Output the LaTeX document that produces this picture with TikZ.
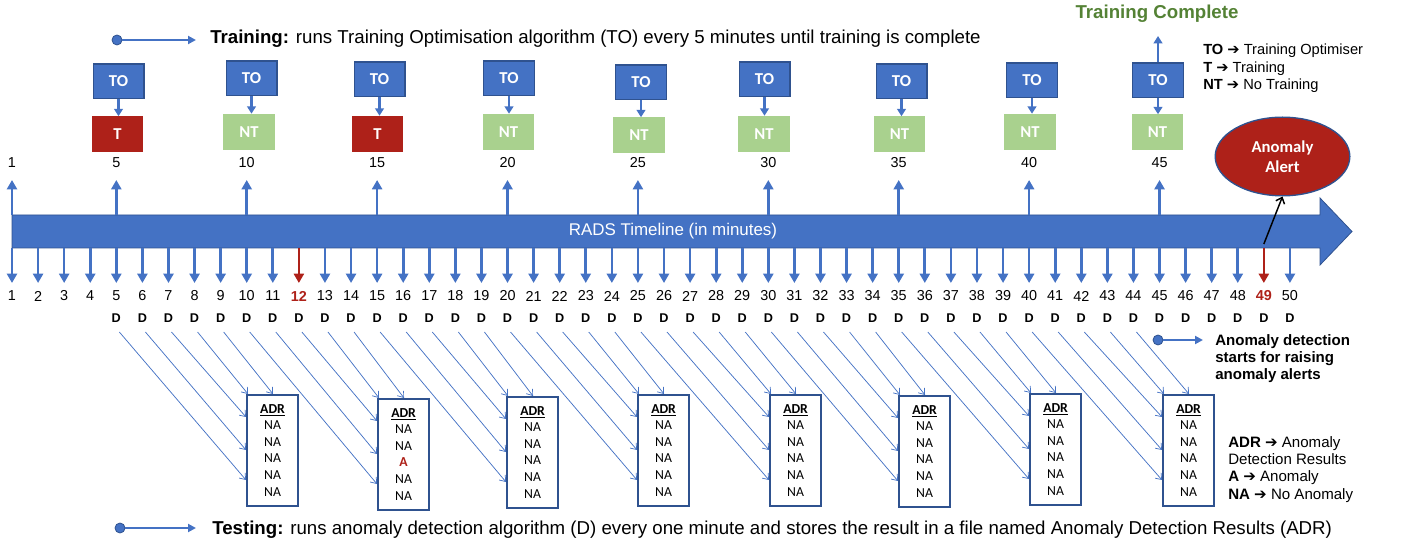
\documentclass[tikz,border=0pt]{standalone}
\usepackage{fontspec}
\setmainfont{Liberation Sans}
\newfontfamily\calib{Carlito}
\newfontfamily\dvs{DejaVu Sans}
\usetikzlibrary{arrows.meta,calc,shapes.geometric}
\definecolor{myblue}{HTML}{4472C4}
\definecolor{dkblue}{HTML}{2F528F}
\definecolor{myred}{HTML}{AE2119}
\definecolor{ntgreen}{HTML}{A9D18E}
\definecolor{tcgreen}{HTML}{548235}
\newcommand{\harr}{{\dvs\bfseries\char"2794}}
\begin{document}
\begin{tikzpicture}[x=0.75pt,y=-0.75pt,
  tickarrow/.style={myblue,line width=2pt,-{Triangle[width=7.5pt,length=7pt]}},
  redtick/.style={tickarrow,myred},
  numlab/.style={font=\fontsize{10.8}{12}\selectfont,inner sep=0pt},
  dlab/.style={font=\fontsize{9.5}{11}\selectfont\bfseries,inner sep=0pt},
  tobox/.style={draw=dkblue,line width=1pt,fill=myblue,minimum width=38pt,minimum height=26pt,inner sep=0pt,text=white,font=\calib\fontsize{12.5}{14}\selectfont\bfseries},
  tbox/.style={fill=myred,minimum width=38.5pt,minimum height=27pt,inner sep=0pt,text=white,font=\calib\fontsize{12.5}{14}\selectfont\bfseries},
  ntbox/.style={tbox,fill=ntgreen},
  toarrow/.style={myblue,line width=2pt,-{Triangle[width=6.5pt,length=5.5pt]}},
  adrbox/.style={draw=dkblue,line width=1.4pt,fill=white,minimum width=38.5pt,minimum height=83pt,inner sep=0pt,anchor=north west,align=center,font=\calib\fontsize{10.3}{12.4}\selectfont},
  diag/.style={myblue,line width=0.55pt,-{Straight Barb[length=4pt,width=6pt]}},
  dotnode/.style={circle,fill=myblue,draw=dkblue,line width=0.6pt,minimum size=7.5pt,inner sep=0pt},
  dotarrow/.style={myblue,line width=1.5pt,-{Triangle[width=6pt,length=6pt]}},
  legend/.style={align=left,anchor=north west,inner sep=0pt,font=\fontsize{11}{12.9}\selectfont}
]
\useasboundingbox (0,0) rectangle (1402,541);

% timeline body
\draw[fill=myblue,draw=dkblue,line width=0.6pt] (12,215) -- (1320,215) -- (1320,198) -- (1352,231.5) -- (1320,265) -- (1320,248) -- (12,248) -- cycle;
\node[text=white,font=\fontsize{12.7}{14}\selectfont,inner sep=0pt] (tl) at (673,231.5) {RADS Timeline (in minutes)};

% ticks below
\foreach \n in {1,...,50}{
  \pgfmathsetmacro\xx{12+26.08*(\n-1)}
  \coordinate (b\n) at (\xx,248);
  \coordinate (e\n) at (\xx,283);
}
\foreach \n in {1,...,11,13,14,...,48,50}{
  \draw[tickarrow] (b\n) -- (e\n);
  \node[numlab] (n\n) at ($(b\n)+(0,48)$) {\n};
}
\foreach \n in {12,49}{
  \draw[redtick] (b\n) -- (e\n);
  \node[numlab,text=myred,font=\fontsize{10.8}{12}\selectfont\bfseries] (n\n) at ($(b\n)+(0,48)$) {\n};
}
\foreach \n in {5,...,50}{
  \node[dlab] (d\n) at ($(b\n)+(0,70)$) {D};
}

% ticks above
\foreach \n in {1,5,10,15,20,25,30,35,40,45}{
  \pgfmathsetmacro\xx{12+26.08*(\n-1)}
  \coordinate (t\n) at (\xx,215);
  \coordinate (u\n) at (\xx,180);
  \draw[tickarrow] (t\n) -- (u\n);
  \node[numlab] (m\n) at (\xx,163) {\n};
}

% TO boxes and results
\foreach \n/\ax/\ay/\bx/\by/\st/\lab in {5/118.5/81.5/117.5/134.5/tbox/T, 10/251.5/78.5/249/132/ntbox/NT, 15/379.5/79.5/377.5/134/tbox/T, 20/509/78.5/508.5/132/ntbox/NT, 25/641/82.5/639/135.5/ntbox/NT, 30/764.5/79.5/764/134/ntbox/NT, 35/901.5/81.5/899.5/134.5/ntbox/NT, 40/1032/80.5/1030/132/ntbox/NT, 45/1158/80.5/1157.5/132.5/ntbox/NT}{
  \node[tobox] (to\n) at (\ax,\ay) {TO};
  \node[\st] (r\n) at (\bx,\by) {\lab};
  \draw[toarrow] (to\n.south) -- (to\n.south |- r\n.north);
}
\coordinate (tcup) at (1158,36);
\draw[toarrow] (to45.north) -- (tcup);
\node[text=tcgreen,font=\fontsize{14}{16}\selectfont\bfseries,anchor=base,inner sep=0pt] (tc) at (1157,19) {Training Complete};

% top legend
\node[legend] (leg1) at (1203,44) {\textbf{TO} \harr{} Training Optimiser\\\textbf{T} \harr{} Training\\\textbf{NT} \harr{} No Training};

% training line
\node[dotnode] (c1) at (117,40) {};
\coordinate (c1e) at (196,40);
\draw[dotarrow] (c1) -- (c1e);
\node[anchor=base west,inner sep=0pt,font=\fontsize{14}{16}\selectfont] (trtxt) at (210,44) {\textbf{Training:} runs Training Optimisation algorithm (TO) every 5 minutes until training is complete};

% anomaly alert
\node[ellipse,fill=myred,draw=dkblue,line width=1pt,minimum width=101pt,minimum height=59pt,inner sep=0pt,align=center,text=white,font=\calib\fontsize{12.5}{15}\selectfont\bfseries] (alert) at (1282.5,156.5) {Anomaly\\Alert};
\draw[black,line width=1.1pt,-{Straight Barb[length=4pt,width=7pt]}] ($(b49)+(0,-4)$) -- (alert.south);

% ADR boxes
\foreach \k/\L/\T in {1/246/394, 2/377/398, 3/506/396, 4/637/394, 5/769/394, 6/898/395, 7/1029/393, 8/1162/394}{
  \ifnum\k=2
    \node[adrbox] (adr\k) at (\L,\T) {\textbf{\underline{ADR}}\\NA\\NA\\\textcolor{myred}{\textbf{A}}\\NA\\NA};
  \else
    \node[adrbox] (adr\k) at (\L,\T) {\textbf{\underline{ADR}}\\NA\\NA\\NA\\NA\\NA};
  \fi
  \pgfmathtruncatemacro\da{5*\k}
  \pgfmathtruncatemacro\db{5*\k+1}
  \pgfmathtruncatemacro\dc{5*\k+2}
  \pgfmathtruncatemacro\dd{5*\k+3}
  \pgfmathtruncatemacro\de{5*\k+4}
  \draw[diag] ($(d\da)+(3,14)$) -- ($(adr\k.north west)+(0,86)$);
  \draw[diag] ($(d\db)+(3,14)$) -- ($(adr\k.north west)+(0,56)$);
  \draw[diag] ($(d\dc)+(3,14)$) -- ($(adr\k.north west)+(0,23)$);
  \draw[diag] ($(d\dd)+(3,14)$) -- ($(adr\k.north west)+(2,0)$);
  \draw[diag] ($(d\de)+(3,14)$) -- ($(adr\k.north west)+(27,0)$);
}

% anomaly detection starts
\node[dotnode] (c3) at (1158,340) {};
\coordinate (c3e) at (1203,340);
\draw[dotarrow] (c3) -- (c3e);
\node[anchor=north west,align=left,inner sep=0pt,font=\fontsize{11.3}{13}\selectfont\bfseries] (adstart) at (1215,334) {Anomaly detection\\starts for raising\\anomaly alerts};

% bottom legend
\node[legend,font=\fontsize{11.3}{13}\selectfont] (leg2) at (1228,436) {\textbf{ADR} \harr{} Anomaly\\Detection Results\\\textbf{A} \harr{} Anomaly\\\textbf{NA} \harr{} No Anomaly};

% testing line
\node[dotnode] (c2) at (120,528) {};
\coordinate (c2e) at (196,528);
\draw[dotarrow] (c2) -- (c2e);
\node[anchor=base west,inner sep=0pt,font=\fontsize{14}{16}\selectfont] (tetxt) at (212,534) {\textbf{Testing:} runs anomaly detection algorithm (D) every one minute and stores the result in a file named Anomaly Detection Results (ADR)};
\end{tikzpicture}
\end{document}
